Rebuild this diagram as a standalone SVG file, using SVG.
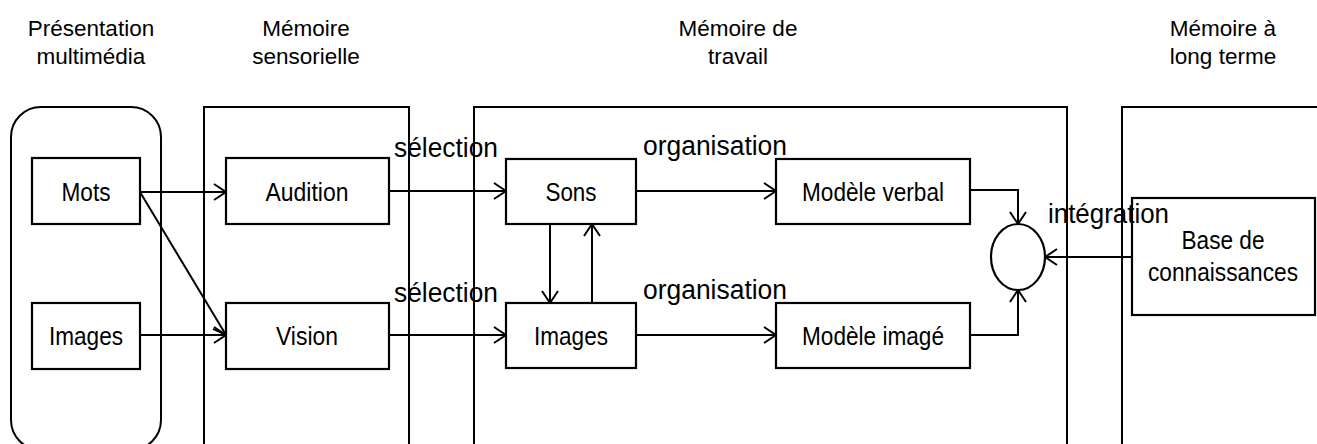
<svg xmlns="http://www.w3.org/2000/svg" width="1317" height="444" viewBox="0 0 1317 444">
  <style>
    .frame { fill: none; stroke: #000; stroke-width: 2; }
    .box { fill: #fff; stroke: #000; stroke-width: 2.2; }
    .conn { fill: none; stroke: #000; stroke-width: 2; }
    .hdr { font-family: "Liberation Sans", Arial, sans-serif; font-size: 22.5px; fill: #000; text-anchor: middle; }
    .lbl { font-family: "Liberation Sans", Arial, sans-serif; font-size: 26px; fill: #000; text-anchor: middle; }
    .lab { font-family: "Liberation Sans", Arial, sans-serif; font-size: 27px; fill: #000; }
  </style>
  <defs>
    <marker id="arr" markerUnits="userSpaceOnUse" markerWidth="16" markerHeight="20" refX="13" refY="9" orient="auto">
      <path d="M1,1 L13,9 L1,17" fill="none" stroke="#000" stroke-width="2"/>
    </marker>
  </defs>
  <rect width="1317" height="444" fill="#fff"/>

  <g id="headers">
    <text class="hdr" x="91" y="36">Présentation</text>
    <text class="hdr" x="91" y="64">multimédia</text>
    <text class="hdr" x="306" y="36">Mémoire</text>
    <text class="hdr" x="306" y="64">sensorielle</text>
    <text class="hdr" x="738" y="36">Mémoire de</text>
    <text class="hdr" x="738" y="64">travail</text>
    <text class="hdr" x="1223" y="36">Mémoire à</text>
    <text class="hdr" x="1223" y="64">long terme</text>
  </g>

  <g id="zones">
    <rect id="zone-presentation" class="frame" x="11" y="107" width="150" height="343" rx="30" ry="30"/>
    <path id="zone-sensorielle" class="frame" d="M204,444 V107 H409 V444"/>
    <path id="zone-travail" class="frame" d="M474,444 V107 H1067 V444"/>
    <path id="zone-longterme" class="frame" d="M1122,444 V107 H1317"/>
  </g>

  <g id="connectors">
    <line class="conn" x1="140" y1="192" x2="226" y2="192" marker-end="url(#arr)"/>
    <line class="conn" x1="140" y1="192" x2="226" y2="335" marker-end="url(#arr)"/>
    <line class="conn" x1="140" y1="335" x2="226" y2="335" marker-end="url(#arr)"/>
    <line class="conn" x1="389" y1="191" x2="506" y2="191" marker-end="url(#arr)"/>
    <line class="conn" x1="389" y1="335" x2="506" y2="335" marker-end="url(#arr)"/>
    <line class="conn" x1="550" y1="224" x2="550" y2="303" marker-end="url(#arr)"/>
    <line class="conn" x1="592" y1="303" x2="592" y2="224" marker-end="url(#arr)"/>
    <line class="conn" x1="636" y1="191" x2="776" y2="191" marker-end="url(#arr)"/>
    <line class="conn" x1="636" y1="335" x2="776" y2="335" marker-end="url(#arr)"/>
    <path class="conn" d="M970,190 H1018 V224" marker-end="url(#arr)"/>
    <path class="conn" d="M970,335 H1018 V290" marker-end="url(#arr)"/>
    <line class="conn" x1="1132" y1="257" x2="1045" y2="257" marker-end="url(#arr)"/>
  </g>

  <g id="node-mots">
    <rect class="box" x="32" y="158" width="108" height="66"/>
    <text class="lbl" x="86" y="201" textLength="49" lengthAdjust="spacingAndGlyphs">Mots</text>
  </g>
  <g id="node-images-pres">
    <rect class="box" x="32" y="303" width="108" height="66"/>
    <text class="lbl" x="86" y="345" textLength="74" lengthAdjust="spacingAndGlyphs">Images</text>
  </g>
  <g id="node-audition">
    <rect class="box" x="226" y="158" width="163" height="66"/>
    <text class="lbl" x="307" y="201" textLength="83" lengthAdjust="spacingAndGlyphs">Audition</text>
  </g>
  <g id="node-vision">
    <rect class="box" x="226" y="303" width="163" height="66"/>
    <text class="lbl" x="307" y="345" textLength="62" lengthAdjust="spacingAndGlyphs">Vision</text>
  </g>
  <g id="node-sons">
    <rect class="box" x="506" y="159" width="130" height="65"/>
    <text class="lbl" x="571" y="201" textLength="51" lengthAdjust="spacingAndGlyphs">Sons</text>
  </g>
  <g id="node-images-travail">
    <rect class="box" x="506" y="303" width="130" height="65"/>
    <text class="lbl" x="571" y="345" textLength="74" lengthAdjust="spacingAndGlyphs">Images</text>
  </g>
  <g id="node-modele-verbal">
    <rect class="box" x="776" y="159" width="194" height="65"/>
    <text class="lbl" x="873" y="201" textLength="142" lengthAdjust="spacingAndGlyphs">Modèle verbal</text>
  </g>
  <g id="node-modele-image">
    <rect class="box" x="776" y="303" width="194" height="65"/>
    <text class="lbl" x="873" y="345" textLength="142" lengthAdjust="spacingAndGlyphs">Modèle imagé</text>
  </g>
  <g id="node-integration">
    <ellipse class="box" cx="1018" cy="257" rx="27" ry="33"/>
  </g>
  <g id="node-base">
    <rect class="box" x="1132" y="198" width="183" height="117"/>
    <text class="lbl" x="1223" y="249" textLength="83" lengthAdjust="spacingAndGlyphs">Base de</text>
    <text class="lbl" x="1223" y="281" textLength="150" lengthAdjust="spacingAndGlyphs">connaissances</text>
  </g>

  <g id="labels">
    <text class="lab" x="394" y="157" textLength="104" lengthAdjust="spacingAndGlyphs">sélection</text>
    <text class="lab" x="394" y="302" textLength="104" lengthAdjust="spacingAndGlyphs">sélection</text>
    <text class="lab" x="643" y="155" textLength="144" lengthAdjust="spacingAndGlyphs">organisation</text>
    <text class="lab" x="643" y="299" textLength="144" lengthAdjust="spacingAndGlyphs">organisation</text>
    <text class="lab" x="1048" y="223" textLength="121" lengthAdjust="spacingAndGlyphs">intégration</text>
  </g>
</svg>
